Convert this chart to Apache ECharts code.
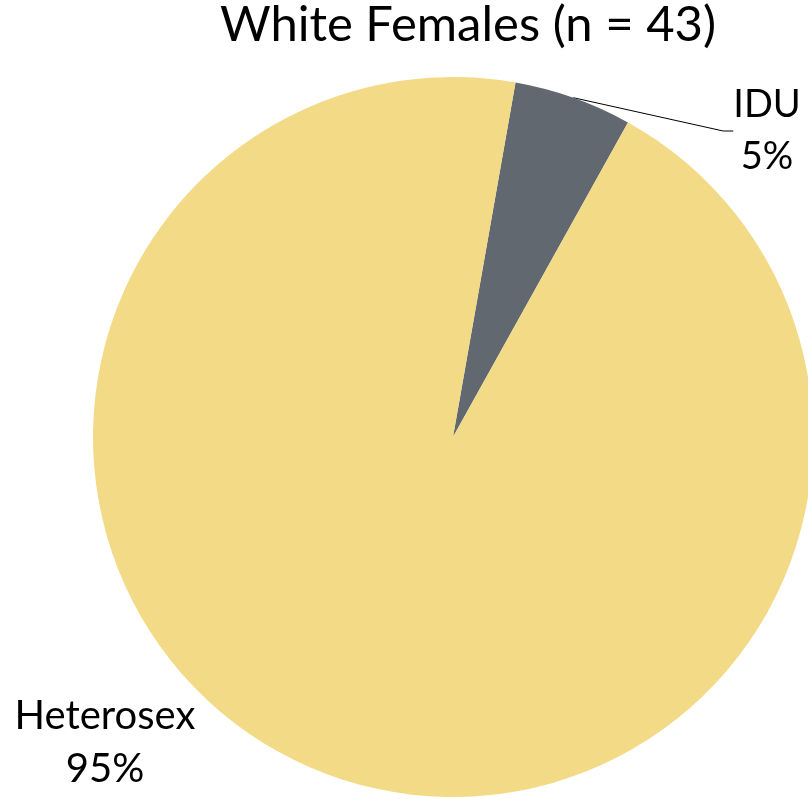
<!DOCTYPE html>
<html><head><meta charset="utf-8">
<script src="https://cdn.jsdelivr.net/npm/echarts@6/dist/echarts.min.js"></script>
<style>html,body{margin:0;padding:0;background:#fff}#c{width:808px;height:799px}</style>
</head><body><div id="c"></div>
<script>
var titleText = 'White Females (n = 43)';
var categories = ['IDU', 'Heterosex'];
var values = [5.3, 94.7];
var colors = ['#626870', '#F3DA87'];

var chart = echarts.init(document.getElementById('c'));
chart.setOption({
  animation: false,
  title: {
    text: titleText, left: 463, top: -4, textAlign: 'center',
    textStyle: { fontFamily: 'Lato', fontWeight: 'normal', fontSize: 49, color: '#000' }
  },
  series: [{
    type: 'pie',
    center: [453, 437],
    radius: 360,
    startAngle: 80,
    clockwise: true,
    avoidLabelOverlap: false,
    data: categories.map(function (c, i) {
      return {
        name: c, value: values[i], itemStyle: { color: colors[i] },
        label: i === 0 ? { fontSize: 38, lineHeight: 52 } : { fontSize: 40, lineHeight: 53 },
        labelLine: { show: i === 0, lineStyle: { color: '#000', width: 1 }, length: 10, length2: 10 }
      };
    }),
    label: {
      show: true,
      position: 'outside',
      fontFamily: 'Lato',
      color: '#000',
      align: 'center',
      formatter: function (p) { return p.name + '\n' + Math.round(p.percent) + '%'; }
    },
    labelLayout: function (p) {
      if (p.dataIndex === 0) return { x: 767, y: 131, align: 'center', verticalAlign: 'middle' };
      return { x: 105, y: 743, align: 'center', verticalAlign: 'middle' };
    }
  }]
});
</script></body></html>
